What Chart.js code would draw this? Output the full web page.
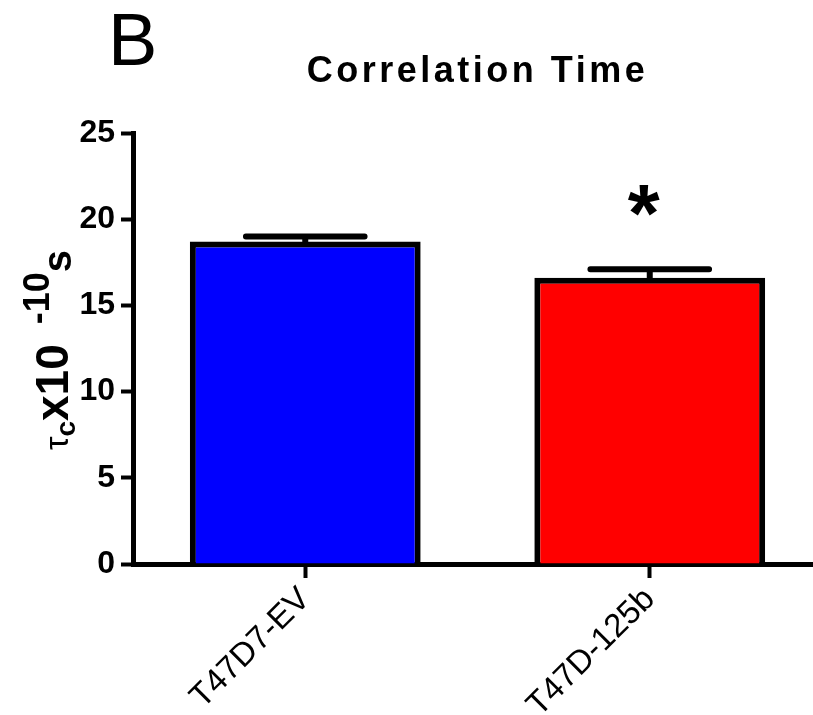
<!DOCTYPE html>
<html>
<head>
<meta charset="utf-8">
<script src="https://cdn.jsdelivr.net/npm/chart.js@4.4.1/dist/chart.umd.min.js"></script>
<style>
  html, body { margin: 0; padding: 0; background: #fff; overflow: hidden; }
  #wrap { width: 822px; height: 715px; position: relative; }
</style>
</head>
<body>
<div id="wrap"><canvas id="chart"></canvas></div>
<script>
const categories = ["T47D7-EV", "T47D-125b"];
const meanValues = [18.7, 16.6];
const semValues = [0.3, 0.5];
const barColors = ["#0000ff", "#ff0000"];
const significant = [false, true];
const yTicks = [0, 5, 10, 15, 20, 25];

const FONT = "'Liberation Sans', Arial, sans-serif";

// error bars (upper only) + asterisk
const errorBars = {
  id: "errorBars",
  afterDatasetsDraw(chart) {
    const ctx = chart.ctx;
    const y = chart.scales.y;
    const meta = chart.getDatasetMeta(0);
    ctx.save();
    ctx.strokeStyle = "#000";
    ctx.lineWidth = 6;
    ctx.lineCap = "round";
    meta.data.forEach((bar, i) => {
      const top = y.getPixelForValue(meanValues[i] + semValues[i]);
      const half = bar.width * 0.257;
      ctx.beginPath();
      ctx.moveTo(bar.x, bar.y);
      ctx.lineTo(bar.x, top);
      ctx.moveTo(bar.x - half, top);
      ctx.lineTo(bar.x + half, top);
      ctx.stroke();

      if (significant[i]) {
        ctx.fillStyle = "#000";
        ctx.font = "bold 82px " + FONT;
        const m = ctx.measureText("*");
        const h = m.actualBoundingBoxAscent + m.actualBoundingBoxDescent;
        const cy = top - 69;
        ctx.textAlign = "center";
        ctx.textBaseline = "alphabetic";
        ctx.fillText("*", bar.x - 6, cy - h / 2 + m.actualBoundingBoxAscent);
      }
    });
    ctx.restore();
  },
};

// title, panel letter and the y axis label with sub/superscripts
const labels = {
  id: "labels",
  afterDraw(chart) {
    const ctx = chart.ctx;
    const area = chart.chartArea;
    ctx.save();
    ctx.fillStyle = "#000";
    ctx.textBaseline = "alphabetic";

    ctx.font = "74px 'Liberation Sans Narrow', " + FONT;
    ctx.textAlign = "left";
    ctx.fillText("B", 108, 65);

    ctx.font = "bold 36px " + FONT;
    ctx.letterSpacing = "3.5px";
    ctx.textAlign = "center";
    ctx.fillText("Correlation Time", (area.left + area.right) / 2, 82);
    ctx.letterSpacing = "0px";

    // rotated label, read bottom to top
    ctx.translate(68, 450);
    ctx.rotate(-Math.PI / 2);
    ctx.textAlign = "left";
    const parts = [
      { t: "τ", f: "34px", dy: 0 },
      { t: "c", f: "bold 28px", dy: 7 },
      { t: "x10", f: "bold 46px", dy: 0 },
      { t: "  -10", f: "bold 36px", dy: -19 },
      { t: "s", f: "bold 40px", dy: 3 },
    ];
    let x = 0;
    parts.forEach((p) => {
      ctx.font = p.f + " " + FONT;
      ctx.fillText(p.t, x, p.dy);
      x += ctx.measureText(p.t).width;
    });
    ctx.restore();
  },
};

new Chart(document.getElementById("chart"), {
  type: "bar",
  data: {
    labels: categories,
    datasets: [
      {
        data: meanValues,
        backgroundColor: barColors,
        borderColor: "#000",
        borderWidth: 6,
        borderSkipped: "bottom",
        barPercentage: 0.67,
        categoryPercentage: 1,
      },
    ],
  },
  options: {
    responsive: true,
    maintainAspectRatio: false,
    animation: false,
    devicePixelRatio: 1,
    layout: { padding: { top: 133, left: 0, right: 0, bottom: 0 } },
    plugins: { legend: { display: false }, tooltip: { enabled: false } },
    scales: {
      x: {
        grid: {
          offset: false,
          drawOnChartArea: false,
          drawTicks: true,
          tickLength: 14,
          tickWidth: 4,
          tickColor: "#000",
        },
        border: { display: true, width: 5, color: "#000" },
        ticks: {
          color: "#000",
          font: { family: FONT, size: 33 },
          minRotation: 45,
          maxRotation: 45,
          padding: 2,
        },
        afterFit: (s) => { s.height = 151; },
      },
      y: {
        min: 0,
        max: 25,
        afterBuildTicks: (s) => { s.ticks = yTicks.map((v) => ({ value: v })); },
        grid: {
          drawOnChartArea: false,
          drawTicks: true,
          tickLength: 12,
          tickWidth: 4,
          tickColor: "#000",
        },
        border: { display: true, width: 5, color: "#000" },
        ticks: {
          color: "#000",
          font: { family: FONT, size: 32, weight: "bold" },
          padding: 6,
        },
        afterFit: (s) => { s.width = 133; },
      },
    },
  },
  plugins: [errorBars, labels],
});
</script>
</body>
</html>
